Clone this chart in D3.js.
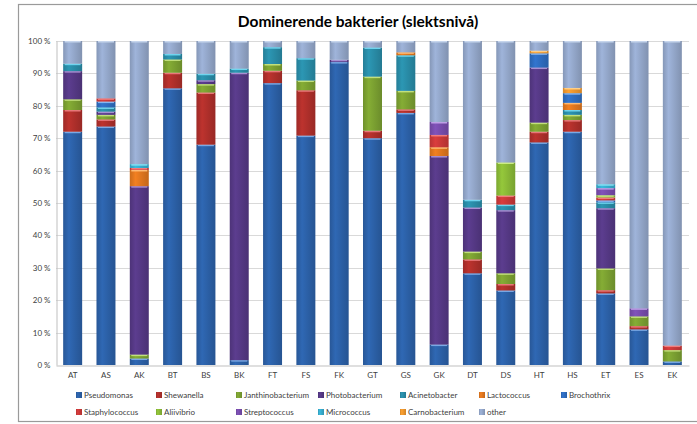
<!DOCTYPE html>
<html>
<head>
<meta charset="utf-8">
<script src="https://cdn.jsdelivr.net/npm/d3@7"></script>
<style>
  body { margin: 0; background: #fff; }
  text { font-family: Lato, "Open Sans", sans-serif; }
</style>
</head>
<body>
<svg id="chart" width="697" height="424"></svg>
<script>
var width = 697,
    height = 424;

// categories (samples)
const categories = ["AT", "AS", "AK", "BT", "BS", "BK", "FT", "FS", "FK", "GT", "GS", "GK", "DT", "DS", "HT", "HS", "ET", "ES", "EK"];

const seriesNames = ["Pseudomonas", "Shewanella", "Janthinobacterium", "Photobacterium", "Acinetobacter", "Lactococcus",
    "Brochothrix", "Staphylococcus", "Aliivibrio", "Streptococcus", "Micrococcus", "Carnobacterium", "other"];

// values per series, in category order (percent)
const pseudomonas      = [72, 73.6, 2, 85.4, 68, 1.5, 87, 70.8, 93.5, 70, 77.8, 6.3, 28.3, 23, 68.7, 72, 22.1, 11, 1.1];
const shewanella       = [6.7, 2.2, 0, 4.8, 16.1, 0, 3.8, 14, 0, 2.3, 1.1, 0, 4.3, 2, 3.3, 3.6, 1.0, 1, 0];
const janthinobacterium = [3.3, 1.4, 1.2, 4.1, 2.6, 0, 2.1, 3, 0, 16.7, 5.7, 0, 2.4, 3.3, 2.8, 1.6, 6.7, 3, 3.5];
const photobacterium   = [8.7, 1.0, 52, 0, 1.2, 88.7, 0, 0, 0.7, 0, 0, 58.2, 13.6, 19.5, 17, 0, 18.6, 0, 0];
const acinetobacter    = [2.3, 1.3, 0, 1.7, 2.0, 1.3, 5.2, 6.9, 0, 9, 11, 0, 2.4, 1.7, 0, 1.5, 1.8, 0, 0];
const lactococcus      = [0, 0, 5, 0, 0, 0, 0, 0, 0, 0, 0.9, 2.7, 0, 0, 0, 2.2, 0, 0, 0];
const brochothrix      = [0, 1.8, 0, 0, 0, 0, 0, 0, 0, 0, 0, 0, 0, 0, 4.4, 3.0, 0.6, 0, 0];
const staphylococcus   = [0, 1.0, 0.6, 0, 0, 0, 0, 0, 0, 0, 0, 3.8, 0, 2.8, 0, 0, 0.9, 0, 1.4];
const aliivibrio       = [0, 0, 0, 0, 0, 0, 0, 0, 0, 0, 0, 0, 0, 10.2, 0, 0, 0.7, 0, 0];
const streptococcus    = [0, 0, 0, 0, 0, 0, 0, 0, 0, 0, 0, 4, 0, 0, 0, 0, 2.2, 2.5, 0];
const micrococcus      = [0, 0, 1.2, 0, 0, 0, 0, 0, 0, 0, 0, 0, 0, 0, 0, 0, 1.2, 0, 0];
const carnobacterium   = [0, 0, 0, 0, 0, 0, 0, 0, 0, 0, 0, 0, 0, 0, 0.8, 1.6, 0, 0, 0];
const other            = [7, 17.7, 38, 4, 10.1, 8.5, 1.9, 5.3, 5.8, 2, 3.5, 25, 49, 37.5, 3, 14.5, 44.2, 82.5, 94];

const yTicks = [0, 0.1, 0.2, 0.3, 0.4, 0.5, 0.6, 0.7, 0.8, 0.9, 1];

// base colour, highlight colour
const colors = [
    ["#2d63ab", "#7aa8e4"], ["#b3302c", "#e8787a"], ["#7ea432", "#c2e07c"], ["#573a88", "#a88fd2"],
    ["#2a8fab", "#6fd4ee"], ["#e5791f", "#fdbb74"], ["#2f6fc4", "#86b6f0"], ["#cf3a3a", "#f27c7c"],
    ["#8dbe38", "#ccec84"], ["#7a4eb0", "#bea0e6"], ["#38b0d2", "#86e2f4"], ["#f39a2e", "#ffcf86"],
    ["#97abcf", "#c6d5ec"]
];

const allSeries = [pseudomonas, shewanella, janthinobacterium, photobacterium, acinetobacter, lactococcus,
    brochothrix, staphylococcus, aliivibrio, streptococcus, micrococcus, carnobacterium, other];

// build table rows for d3.stack
var table = categories.map(function (c, i) {
    var row = { cat: c };
    seriesNames.forEach(function (s, j) { row[s] = allSeries[j][i]; });
    return row;
});

var stacked = d3.stack().keys(seriesNames).offset(d3.stackOffsetExpand)(table);

var svg = d3.select("#chart");

var x = d3.scaleBand().domain(categories).range([56, 689]).paddingInner(0.43).paddingOuter(0.215);
var y = d3.scaleLinear().domain([0, 1]).range([365, 41]);

// gradients
var defs = svg.append("defs");
colors.forEach(function (c, i) {
    var g = defs.append("linearGradient").attr("id", "grad" + i)
        .attr("x1", "0%").attr("x2", "100%").attr("y1", "0%").attr("y2", "0%");
    g.append("stop").attr("offset", "0%").attr("stop-color", d3.color(c[0]).darker(0.35));
    g.append("stop").attr("offset", "30%").attr("stop-color", d3.color(c[0]).brighter(0.15));
    g.append("stop").attr("offset", "100%").attr("stop-color", d3.color(c[0]).darker(0.45));
});

// outer frame
svg.append("rect")
    .attr("x", 18.5).attr("y", 4.5).attr("width", 690).attr("height", 417)
    .attr("fill", "none").attr("stroke", "#9a9a9a").attr("stroke-width", 1.2);

// title
svg.append("text")
    .attr("x", 358).attr("y", 27)
    .attr("text-anchor", "middle")
    .style("font-size", "15.5px").style("font-weight", "bold").attr("fill", "#000")
    .text("Dominerende bakterier (slektsnivå)");

// gridlines
svg.append("g").selectAll("line")
    .data(yTicks.slice(1))
    .join("line")
    .attr("x1", 56).attr("x2", 689)
    .attr("y1", function (d) { return Math.round(y(d)) + 0.5; })
    .attr("y2", function (d) { return Math.round(y(d)) + 0.5; })
    .attr("stroke", "#d9d9d9");

// y axis
var yAxis = svg.append("g").attr("transform", "translate(56.5,0)")
    .call(d3.axisLeft(y).tickValues(yTicks).tickSize(0).tickPadding(6)
        .tickFormat(function (d) { return Math.round(d * 100) + " %"; }));
yAxis.select(".domain").attr("stroke", "#bfbfbf");
yAxis.selectAll("text").style("font-size", "8px").attr("fill", "#404040").style("font-family", "Lato, sans-serif");

// x axis
var xAxis = svg.append("g").attr("transform", "translate(0,365.5)")
    .call(d3.axisBottom(x).tickSize(0).tickPadding(7));
xAxis.select(".domain").attr("stroke", "#bfbfbf");
xAxis.selectAll("text").style("font-size", "8px").attr("fill", "#404040").style("font-family", "Lato, sans-serif");

// bars
var layers = svg.append("g").selectAll("g")
    .data(stacked)
    .join("g");

layers.selectAll("rect.seg")
    .data(function (d) { return d.map(function (p) { return { p: p, i: d.index }; }); })
    .join("rect")
    .attr("class", "seg")
    .filter(function (d) { return d.p[1] - d.p[0] > 0; })
    .attr("x", function (d) { return x(d.p.data.cat); })
    .attr("width", x.bandwidth())
    .attr("y", function (d) { return y(d.p[1]); })
    .attr("height", function (d) { return y(d.p[0]) - y(d.p[1]); })
    .attr("fill", function (d) { return "url(#grad" + d.i + ")"; });

// top highlight of each segment
layers.selectAll("rect.hl")
    .data(function (d) { return d.map(function (p) { return { p: p, i: d.index }; }); })
    .join("rect")
    .attr("class", "hl")
    .filter(function (d) { return d.p[1] - d.p[0] > 0; })
    .attr("x", function (d) { return x(d.p.data.cat) + 1.5; })
    .attr("width", x.bandwidth() - 3)
    .attr("y", function (d) { return y(d.p[1]); })
    .attr("height", function (d) { return Math.min(1.5, y(d.p[0]) - y(d.p[1])); })
    .attr("fill", function (d) { return colors[d.i][1]; });

// legend
const legendX = [79, 159, 239, 321, 403, 482, 564];
var legend = svg.append("g").selectAll("g")
    .data(seriesNames)
    .join("g")
    .attr("transform", function (d, i) {
        return "translate(" + legendX[i % 7] + "," + (i < 7 ? 395 : 412) + ")";
    });
legend.append("rect")
    .attr("x", -3).attr("y", -3).attr("width", 6).attr("height", 6)
    .attr("fill", function (d, i) { return "url(#grad" + i + ")"; });
legend.append("text")
    .attr("x", 5).attr("y", 3)
    .style("font-size", "8px").attr("fill", "#404040")
    .text(function (d) { return d; });
</script>
</body>
</html>
